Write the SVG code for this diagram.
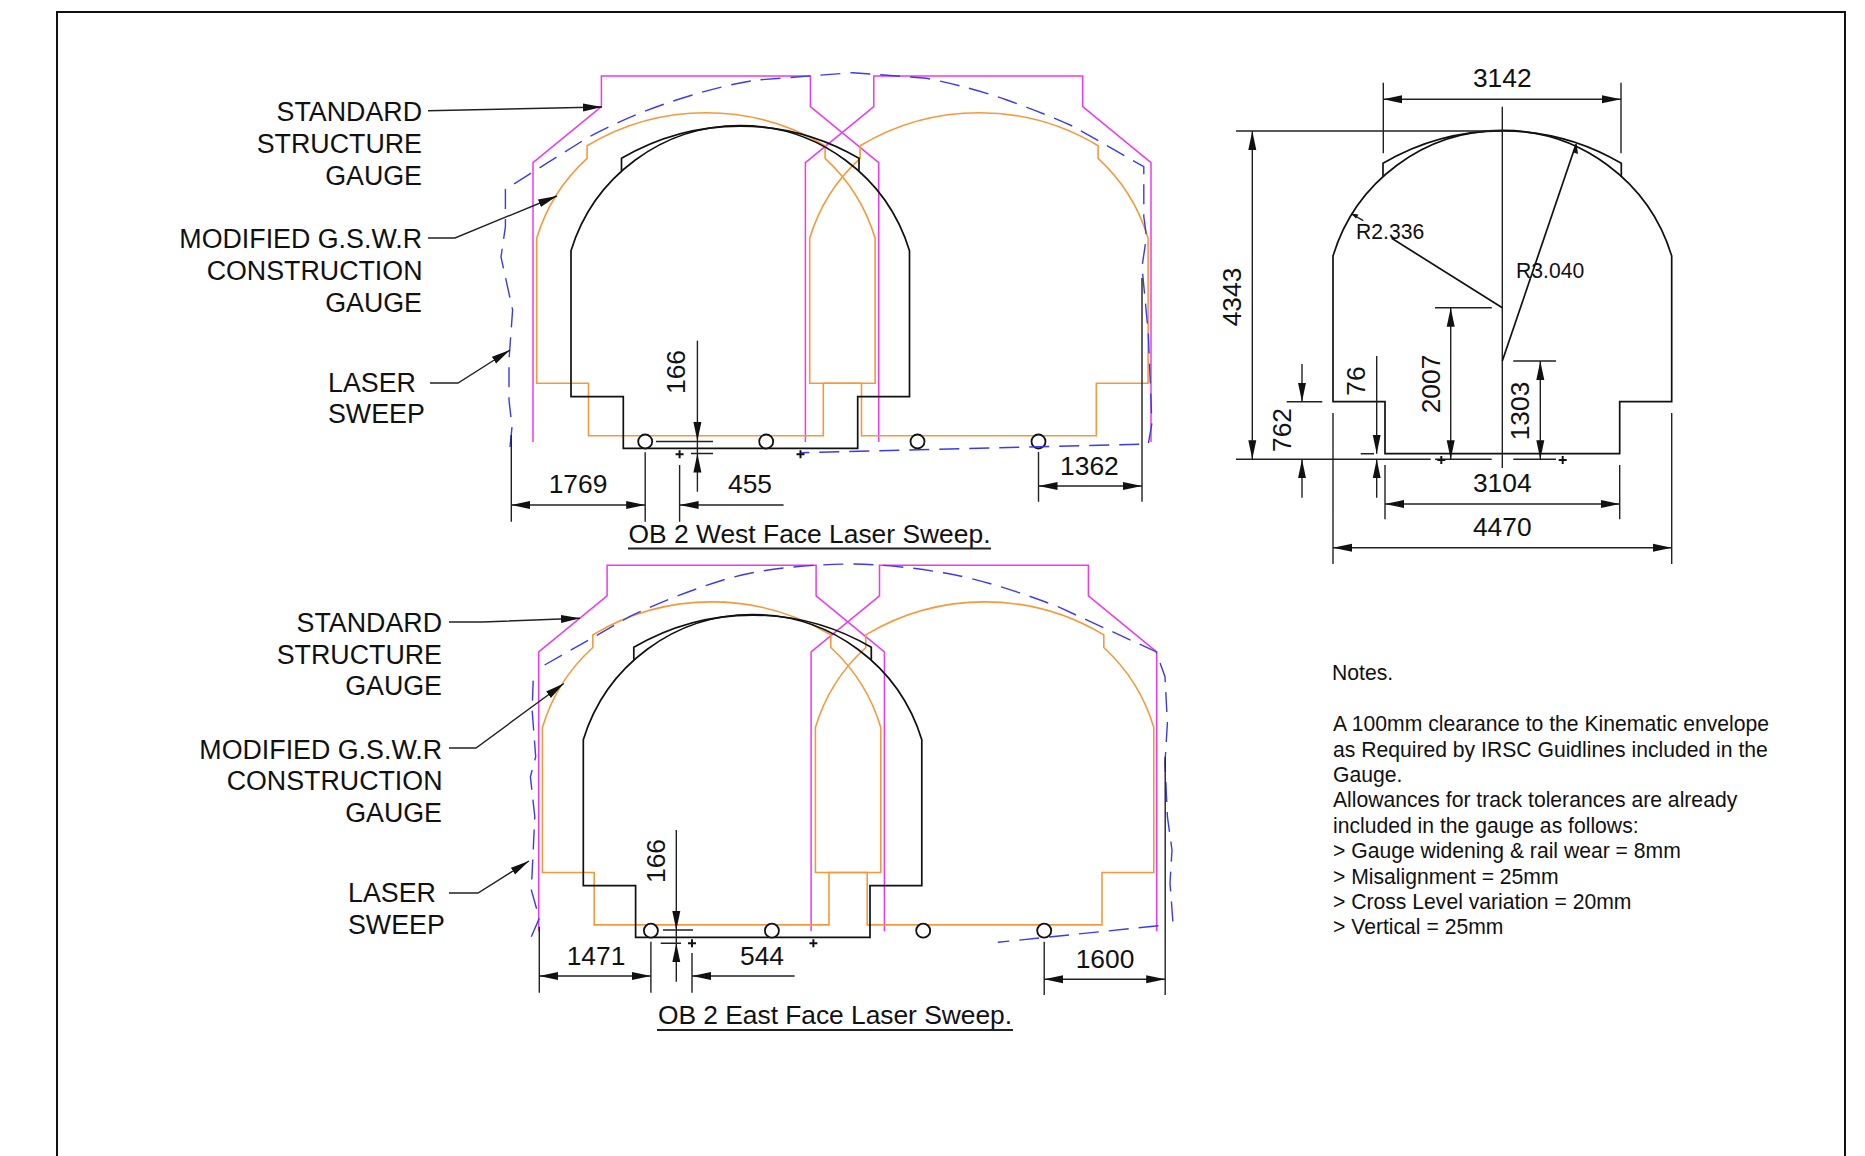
<svg xmlns="http://www.w3.org/2000/svg" xmlns:xlink="http://www.w3.org/1999/xlink" width="1865" height="1156" viewBox="0 0 1865 1156">
<style>
text{font-family:"Liberation Sans",Arial,sans-serif;fill:#111}
.t26{font-size:26.400px}
.l{font-size:26.800px}
.r{text-anchor:end}
.m{text-anchor:middle}
.n{font-size:21.150px}
.k{fill:none;stroke:#111;stroke-width:1.7}
.d{fill:none;stroke:#222;stroke-width:1.4}
.x{fill:none;stroke:#111;stroke-width:2}
.da{fill:none;stroke:#222;stroke-width:1.4;marker-end:url(#ah)}
.dd{fill:none;stroke:#222;stroke-width:1.4;marker-start:url(#ahs);marker-end:url(#ah)}
.p{fill:none;stroke:#ee38ee;stroke-width:1.5}
.o{fill:none;stroke:#f59a3c;stroke-width:1.6}
.b{fill:none;stroke:#3a3af0;stroke-width:1.4;stroke-dasharray:20 10}
.c{fill:#fff;stroke:#111;stroke-width:1.8}
.u{stroke:#222;stroke-width:2}
</style>
<defs>
<marker id="ah" markerUnits="userSpaceOnUse" markerWidth="20" markerHeight="10" refX="19" refY="5" orient="auto"><path d="M0 1L19 5L0 9Z" fill="#111"/></marker>
<marker id="ahs" markerUnits="userSpaceOnUse" markerWidth="20" markerHeight="10" refX="1" refY="5" orient="auto"><path d="M20 1L1 5L20 9Z" fill="#111"/></marker>
<g id="pink"><path class="p" d="M533 442V162.700L601.400 106.700V76H810.400V106.700L878.700 162.700V442"/><path class="p" d="M805.400 442V162.700L873.800 106.700V76H1082.700V106.700L1151 162.700V442"/></g>
<path id="og" class="o" d="M588.500 435.700V383.300H536.700V238.300A177 177 0 0 1 587.100 158.300V145.700A231 231 0 0 1 825.100 145.700V158.300A177 177 0 0 1 875.100 238.300V383.300H823.300V435.700Z"/>
<g id="bk"><path class="k" d="M623.300 448.300V396.700H571V250.700A177 177 0 0 1 909.500 250.700V396.700H857.700V448.300Z"/><path class="k" d="M621.500 170.700V158.300A235 235 0 0 1 859 158.300V170.700"/></g>
<g id="rails"><circle class="c" cx="645.200" cy="441.500" r="7"/><circle class="c" cx="766.200" cy="441.500" r="7"/><circle class="c" cx="917.500" cy="441.500" r="7"/><circle class="c" cx="1038.500" cy="441.500" r="7"/></g>
</defs>
<rect width="1865" height="1156" fill="#fff"/>
<path id="frame" fill="none" stroke="#111" stroke-width="2" d="M57 1156V12H1845V1156"/>

<g id="west-face">
<use xlink:href="#pink" href="#pink"/>
<use xlink:href="#og" href="#og"/>
<use xlink:href="#og" href="#og" transform="translate(273 0)"/>
<use xlink:href="#bk" href="#bk"/>
<use xlink:href="#rails" href="#rails"/>
<path id="west-laser" class="b" d="M510 447L512 427L509 400L509 360L512.600 310L501 257L505.400 226.700V189.300L587 138Q630 115 676.400 100T756.800 80L852.800 72.700L926.400 78.300Q970 87 1006.800 100T1073.800 126.700L1143.800 166.700V216.700L1146.500 236.700L1142 266.700L1148.300 333.300L1151.900 423.300L1148.300 444L801.400 452.700"/>
</g>
<g id="east-face">
<use xlink:href="#pink" href="#pink" transform="translate(5.700 489.200)"/>
<use xlink:href="#og" href="#og" transform="translate(5.700 489.200)"/>
<use xlink:href="#og" href="#og" transform="translate(278.700 489.200)"/>
<use xlink:href="#bk" href="#bk" transform="translate(12.300 489)"/>
<use xlink:href="#rails" href="#rails" transform="translate(5.700 489.200)"/>
<path id="east-laser" class="b" d="M531.300 936.700L539.300 918.300L531.300 890L534.800 816.700L530.400 776.700L535.700 756.700L532.100 710L533.500 671.700M544.600 665L629.500 616.700Q675 595 723.200 580T852.700 564Q900 565 946.400 573.300T1058 606.700L1145 646.700L1156 651.700L1165 676.700L1167.400 723L1165 763L1167.400 816.700L1172 850L1170 883L1173 923M1158.500 925.700L997.800 942.300"/>
</g>

<g id="connectors">
<path class="da" d="M428 110.700L602 107"/>
<path class="da" d="M428 238H455L557 196"/>
<path class="da" d="M430 383H458L510 350"/>
<path class="da" d="M449 622H482L580 618.300"/>
<path class="da" d="M449 748H476L563.800 683.500"/>
<path class="da" d="M449 893H478L529 861"/>
</g>

<g id="west-dims">
<path class="da" d="M697.400 340.700V441"/><path class="da" d="M697.400 491.700V453.500"/>
<path class="d" d="M656 441.500H713M691 453.500H713M697.400 441V454"/>
<path class="d" d="M511.300 435V521.700M645.200 452.300V521.700M679.600 465V521.700M1038.500 452V501.700M1142 278V501.700"/>
<path class="dd" d="M511.300 505H645.200"/><path class="da" d="M783.600 505H679.600"/>
<path class="dd" d="M1038.500 486H1142"/>
<path class="x" d="M675.600 454.300h8M679.600 450.300v8M796.500 454.300h8M800.500 450.300v8"/>
<text class="t26 m" x="578" y="493">1769</text>
<text class="t26 m" x="750" y="493">455</text>
<text class="t26 m" x="1089.400" y="475">1362</text>
<text class="t26 m" transform="translate(685 372) rotate(-90)">166</text>
<text class="t26 m" x="809.500" y="543" textLength="362">OB 2 West Face Laser Sweep.</text>
<line class="u" x1="628" y1="548.500" x2="991" y2="548.500"/>
</g>
<g id="east-dims">
<path class="da" d="M676.300 830V930"/><path class="da" d="M676.300 981.700V943.300"/>
<path class="d" d="M663 930H693M660.700 943.300H681M676.300 930V944"/>
<path class="d" d="M539.300 926.700V992.700M650.900 941.700V992.700M692 953V992.700M1044.200 941.700V995M1165.200 756.700V995"/>
<path class="dd" d="M539.300 976H650.900"/><path class="da" d="M794.600 976H692"/>
<path class="dd" d="M1044.200 979.300H1165.200"/>
<path class="x" d="M688 943.300h8M692 939.300v8M809.400 943.300h8M813.400 939.300v8"/>
<text class="t26 m" x="596" y="964.500">1471</text>
<text class="t26 m" x="762" y="964.500">544</text>
<text class="t26 m" x="1105" y="968">1600</text>
<text class="t26 m" transform="translate(665 861) rotate(-90)">166</text>
<text class="t26 m" x="835" y="1024" textLength="354">OB 2 East Face Laser Sweep.</text>
<line class="u" x1="657" y1="1030" x2="1013" y2="1030"/>
</g>

<g id="west-labels">
<text class="l r" x="422" y="121">STANDARD</text><text class="l r" x="422" y="153">STRUCTURE</text><text class="l r" x="422" y="185">GAUGE</text>
<text class="l r" x="422" y="248">MODIFIED G.S.W.R</text><text class="l r" x="422.500" y="280">CONSTRUCTION</text><text class="l r" x="422" y="312">GAUGE</text>
<text class="l" x="328" y="392">LASER</text><text class="l" x="328" y="423">SWEEP</text>
</g>
<g id="east-labels">
<text class="l r" x="442" y="632">STANDARD</text><text class="l r" x="442" y="664">STRUCTURE</text><text class="l r" x="442" y="695">GAUGE</text>
<text class="l r" x="442" y="759">MODIFIED G.S.W.R</text><text class="l r" x="442.500" y="790">CONSTRUCTION</text><text class="l r" x="442" y="822">GAUGE</text>
<text class="l" x="348" y="902">LASER</text><text class="l" x="348" y="934">SWEEP</text>
</g>

<g id="section">
<path class="k" d="M1333 401.700V256A177 177 0 0 1 1671.700 256V401.700H1619.700V453.700H1385V401.700Z"/>
<path class="k" d="M1383 176.700V163.300A235 235 0 0 1 1621.300 163.300V176.700"/>
<path class="d" d="M1502.300 106.700V468M1236 131H1502.300M1236 459.300H1430.700M1435 459.300H1491.700M1513.300 459.300H1556"/>
<path class="d" d="M1383.300 82.700V153.300M1621 82.700V153.300M1385 465V519.300M1619.700 465V519.300M1333 413V564M1671.700 413V564M1286.700 401.700H1322.300M1360.700 453.700H1374M1435 307.700H1491.700M1513.300 361H1556"/>
<path class="x" d="M1437.300 460h8M1441.300 456v8M1558.700 460h8M1562.700 456v8"/>
<path class="dd" d="M1252.300 131V459.300"/>
<path class="dd" d="M1383.300 99.300H1621"/>
<path class="dd" d="M1385 504H1619.700"/>
<path class="dd" d="M1333 547.700H1671.700"/>
<path class="da" d="M1302 364V401.700"/><path class="da" d="M1302 497.700V459.300"/>
<path class="da" d="M1376.700 356V453.700"/><path class="da" d="M1376.700 497.700V459.300"/>
<path class="dd" d="M1450.700 307.700V459.300"/>
<path class="dd" d="M1540.300 361V459.300"/>
<path class="k" d="M1391.700 238.300L1502.300 307.700"/>
<path class="d" d="M1363.300 220.700L1352 214.200"/>
<path d="M1351 213.500L1358.500 214.500L1356 218.500Z" fill="#111"/>
<path class="k" d="M1502.300 361L1576 144.300"/>
<path d="M1576.500 143L1578 154L1572.800 152.200Z" fill="#111"/>
<text class="t26 m" x="1502.300" y="87">3142</text>
<text class="t26 m" x="1502.300" y="492">3104</text>
<text class="t26 m" x="1502.300" y="536">4470</text>
<text class="t26 m" transform="translate(1241 297) rotate(-90)">4343</text>
<text class="t26 m" transform="translate(1290.500 430) rotate(-90)">762</text>
<text class="t26 m" transform="translate(1365 381) rotate(-90)">76</text>
<text class="t26 m" transform="translate(1440 384) rotate(-90)">2007</text>
<text class="t26 m" transform="translate(1528.500 411) rotate(-90)">1303</text>
<text class="n" x="1356" y="239">R2.336</text>
<text class="n" x="1516" y="278">R3.040</text>
</g>

<g id="notes">
<text class="n" x="1332" y="680">Notes.</text>
<text class="n" x="1333" y="731">A 100mm clearance to the Kinematic envelope</text>
<text class="n" x="1333" y="757">as Required by IRSC Guidlines included in the</text>
<text class="n" x="1333" y="782">Gauge.</text>
<text class="n" x="1333" y="807">Allowances for track tolerances are already</text>
<text class="n" x="1333" y="833">included in the gauge as follows:</text>
<text class="n" x="1333" y="858">&gt; Gauge widening &amp; rail wear = 8mm</text>
<text class="n" x="1333" y="884">&gt; Misalignment = 25mm</text>
<text class="n" x="1333" y="909">&gt; Cross Level variation = 20mm</text>
<text class="n" x="1333" y="934">&gt; Vertical = 25mm</text>
</g>
</svg>
